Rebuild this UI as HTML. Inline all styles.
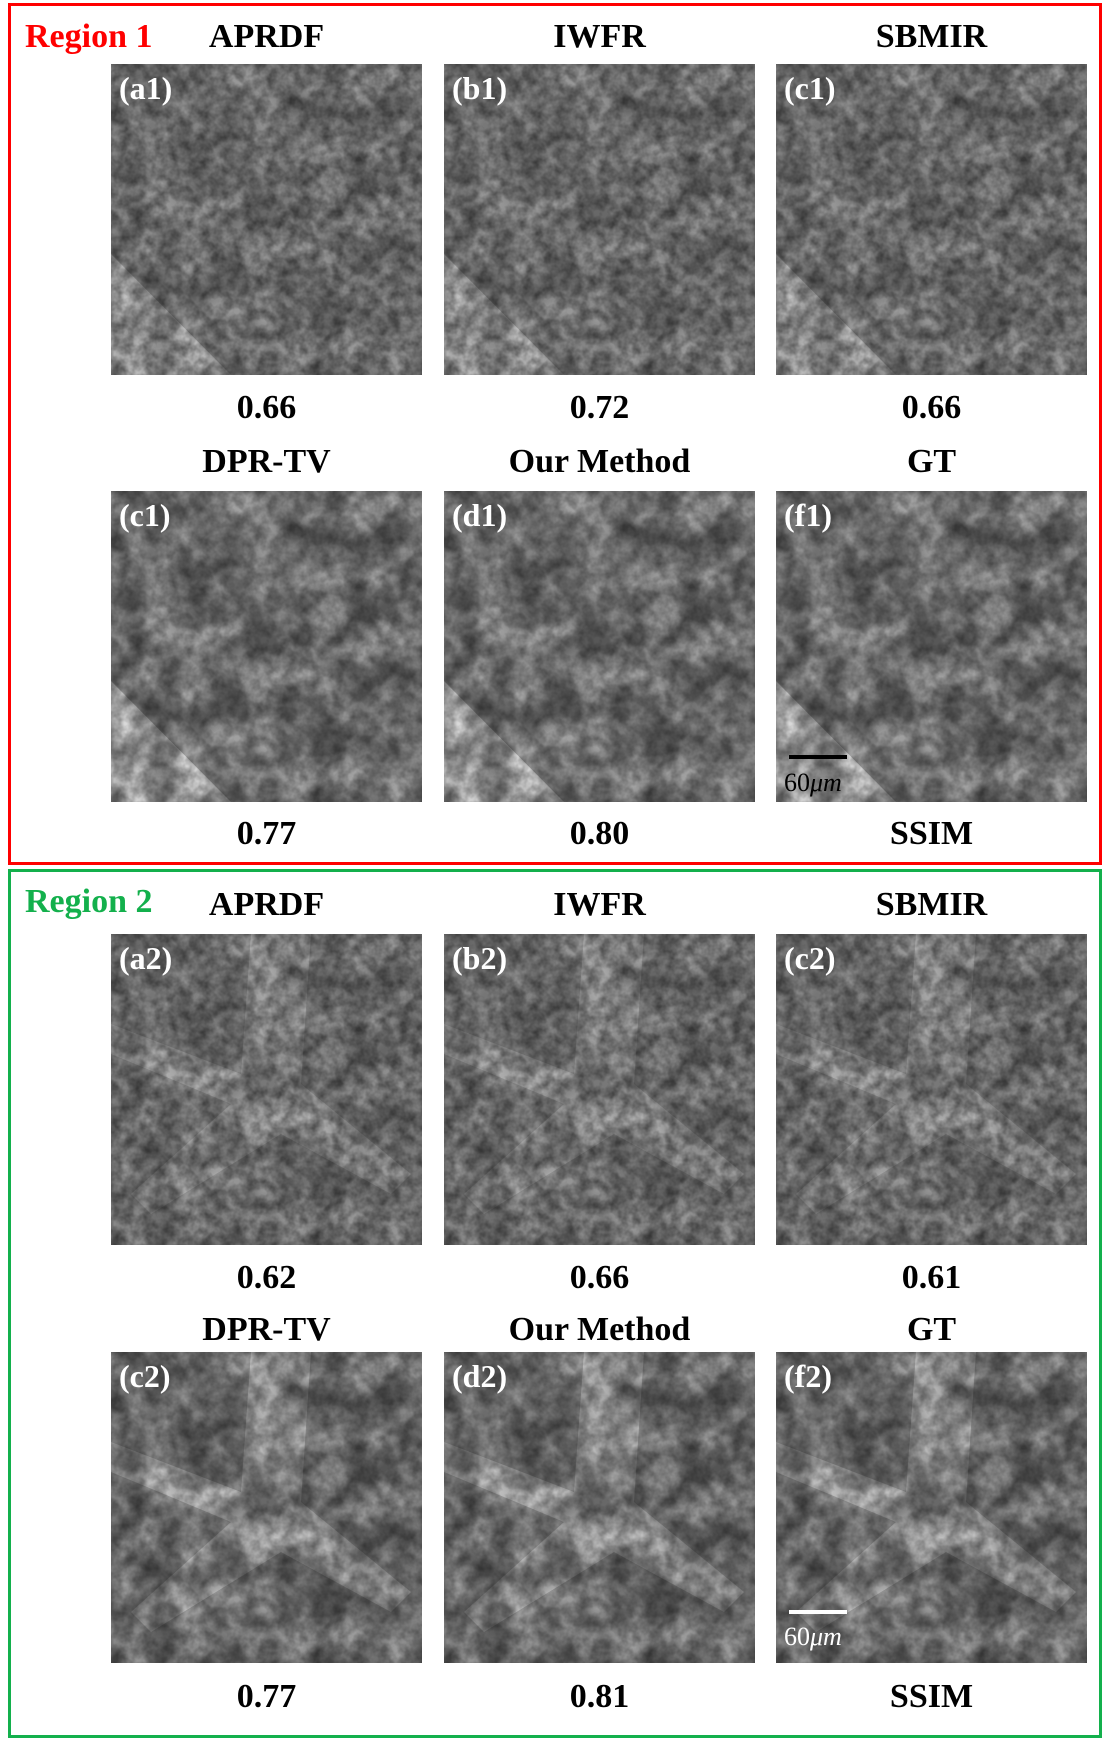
<!DOCTYPE html>
<html><head><meta charset="utf-8">
<style>
body{margin:0;width:1106px;height:1740px;background:#fff;position:relative;font-family:"Liberation Serif",serif;overflow:hidden}
.box{position:absolute;box-sizing:border-box;border:3px solid}
.t{position:absolute;font-weight:bold;font-size:34px;text-align:center;width:311px;line-height:1}
.reg{position:absolute;font-weight:bold;font-size:34px;line-height:1}
.img{position:absolute;width:311px;height:311px}
.lab{position:absolute;left:8px;top:8px;color:#fff;font-weight:bold;font-size:32px;line-height:1}
</style></head><body>
<div class="box" style="left:8px;top:3px;width:1094px;height:862px;border-color:#ff0000"></div>
<div class="box" style="left:8px;top:869px;width:1094px;height:869px;border-color:#13b04c"></div>
<div class="reg" style="left:25px;top:20px;color:#ff0000">Region 1</div>
<div class="reg" style="left:25px;top:885px;color:#13b04c">Region 2</div>
<svg width="0" height="0" style="position:absolute">
<defs>
<filter id="n1" x="0" y="0" width="100%" height="100%"><feTurbulence type="fractalNoise" baseFrequency="0.09" numOctaves="3" seed="3"/><feColorMatrix type="matrix" values="0 0 0 0 0 0 0 0 0 0 0 0 0 0 0 0 0 0 1 0"/><feComponentTransfer><feFuncA type="linear" slope="1.6" intercept="-0.4"/></feComponentTransfer></filter>
<filter id="n2" x="0" y="0" width="100%" height="100%"><feTurbulence type="fractalNoise" baseFrequency="0.03" numOctaves="2" seed="7"/><feColorMatrix type="matrix" values="0 0 0 0 0 0 0 0 0 0 0 0 0 0 0 0 0 0 1 0"/><feComponentTransfer><feFuncA type="linear" slope="2.4" intercept="-0.7"/></feComponentTransfer></filter>
</defs></svg>
<div id="root"></div>
<script>
const cols=[111,444,776];
const titleY=[37,462,905,1330];
const imgY=[64,491,934,1352];
const valY=[408,834,1278,1697];
const titles=[["APRDF","IWFR","SBMIR"],["DPR-TV","Our Method","GT"],["APRDF","IWFR","SBMIR"],["DPR-TV","Our Method","GT"]];
const values=[["0.66","0.72","0.66"],["0.77","0.80","SSIM"],["0.62","0.66","0.61"],["0.77","0.81","SSIM"]];
const labels=[["(a1)","(b1)","(c1)"],["(c1)","(d1)","(f1)"],["(a2)","(b2)","(c2)"],["(c2)","(d2)","(f2)"]];
const root=document.getElementById('root');
for(let r=0;r<4;r++){for(let c=0;c<3;c++){
 const t=document.createElement('div');t.className='t';
 
 
 t.style.left=cols[c]+'px';t.style.top=(titleY[r]-17)+'px';t.textContent=titles[r][c];root.appendChild(t);
 const v=document.createElement('div');v.className='t';
 
 
 v.style.left=cols[c]+'px';v.style.top=(valY[r]-17)+'px';v.textContent=values[r][c];root.appendChild(v);
 const d=document.createElement('div');d.className='img';
 
 
 d.style.left=cols[c]+'px';d.style.top=imgY[r]+'px';
 const reg2=r>=2, den=(r%2==1);
 const base=reg2?(den?'#9a9a9a':'#949494'):(den?'#a0a0a0':'#979797');
 let s='<svg width="311" height="311"><rect width="311" height="311" fill="'+base+'"/>';
 if(!reg2) s+='<polygon points="0,190 0,311 120,311" fill="#dcdcdc" opacity="'+(den?0.95:0.6)+'"/>';
 else s+='<path d="M140,0 L200,0 L190,150 L300,240 L280,260 L170,200 L40,280 L20,260 L120,170 L0,120 L0,90 L130,140 Z" fill="#c8c8c8" opacity="'+(den?0.8:0.5)+'"/>';
 s+='<rect width="311" height="311" fill="#fff" filter="url(#n2)" opacity="'+(den?0.45:0.3)+'"/>';
 s+='<rect width="311" height="311" fill="#222" filter="url(#n1)" opacity="'+(den?0.4:0.5)+'"/>';
 if(r%2==1&&c==2){s+='<rect x="13" y="'+(reg2?258:264)+'" width="58" height="4" fill="'+(reg2?'#fff':'#000')+'"/><text x="8" y="'+(reg2?293:300)+'" font-family="Liberation Serif" font-size="26" fill="'+(reg2?'#fff':'#000')+'">60<tspan font-style="italic">μm</tspan></text>';}
 s+='</svg>';
 d.innerHTML=s;
 const l=document.createElement('div');l.className='lab';
 
 
 l.textContent=labels[r][c];d.appendChild(l);
 root.appendChild(d);
}}
</script>
</body></html>
